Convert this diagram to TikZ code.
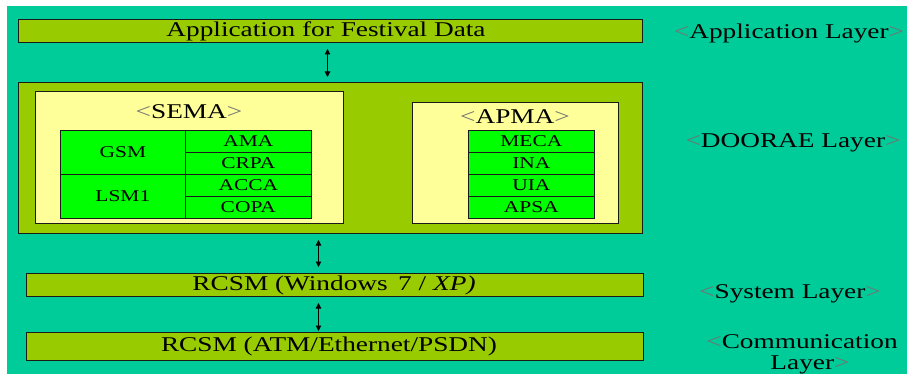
\documentclass[tikz,border=0pt]{standalone}
\usepackage{fontspec}
\setmainfont{Liberation Serif}[FakeStretch=1.3]
\usetikzlibrary{arrows.meta}
\definecolor{sea}{HTML}{00CC99}
\definecolor{olive}{HTML}{99CC00}
\definecolor{cream}{HTML}{FFFF99}
\definecolor{leaf}{HTML}{00FF00}
\definecolor{edge}{HTML}{1A1A1A}
\newcommand{\lt}{{\color{black!55}<}}
\newcommand{\gt}{{\color{black!55}>}}
\tikzset{
  layerbar/.style={draw=edge, line width=1pt, fill=olive, anchor=north west, inner sep=0pt},
  panel/.style={draw=edge, line width=1pt, fill=cream, anchor=north west, inner sep=0pt},
  cell/.style={draw=edge, line width=0.7pt, fill=leaf, anchor=north west, inner sep=0pt,
               minimum height=22pt, font=\fontsize{16.5}{18}\selectfont},
  big/.style={font=\fontsize{21}{24}\selectfont},
  updown/.style={{Triangle[width=5.5pt,length=5.5pt]}-{Triangle[width=5.5pt,length=5.5pt]}, line width=0.8pt}
}
\begin{document}
\begin{tikzpicture}[x=1pt, y=-1pt]
\useasboundingbox (0,0) rectangle (907,374);
\fill[white] (0,0) rectangle (907,374);
\fill[sea] (7,6) rectangle (907,374);

% layer bars
\node[layerbar, minimum width=624pt, minimum height=23pt] (app) at (18,19) {};
\node[layerbar, minimum width=624pt, minimum height=151pt] (doorae) at (18,82) {};
\node[layerbar, minimum width=617pt, minimum height=23pt] (sys) at (26,273) {};
\node[layerbar, minimum width=617pt, minimum height=28pt] (comm) at (26,332) {};

\node[big] (apptext) at (326,31) {Application for Festival Data};
\node[big] (systext) at (334,285) {RCSM (Windows\enspace 7 / \textit{XP)}};
\node[big] (commtext) at (329,346) {RCSM (ATM/Ethernet/PSDN)};

% SEMA panel
\node[panel, minimum width=308pt, minimum height=132pt] (sema) at (35,91) {};
\node[big] (sematitle) at (189,112) {\lt SEMA\gt};
\node[cell, minimum width=125pt, minimum height=44pt] (gsm) at (60,130) {GSM};
\node[cell, minimum width=125pt, minimum height=44pt] (lsm) at (60,174) {LSM1};
\node[cell, minimum width=126pt] (ama) at (185,130) {AMA};
\node[cell, minimum width=126pt] (crpa) at (185,152) {CRPA};
\node[cell, minimum width=126pt] (acca) at (185,174) {ACCA};
\node[cell, minimum width=126pt] (copa) at (185,196) {COPA};

% APMA panel
\node[panel, minimum width=206pt, minimum height=121pt] (apma) at (412,102) {};
\node[big] (apmatitle) at (515,117) {\lt APMA\gt};
\node[cell, minimum width=126pt] (meca) at (468,130) {MECA};
\node[cell, minimum width=126pt] (ina) at (468,152) {INA};
\node[cell, minimum width=126pt] (uia) at (468,174) {UIA};
\node[cell, minimum width=126pt] (apsa) at (468,196) {APSA};

% layer captions
\node[big] (lapp) at (789,33) {\lt Application Layer\gt};
\node[big] (ldoor) at (793,143) {\lt DOORAE Layer\gt};
\node[big] (lsys) at (790,294) {\lt System Layer\gt};
\node[big] (lcomm) at (802,342) {\lt Communication};
\node[big] (lcomm2) at (810,365) {Layer\gt};

% connectors between layers
\draw[updown, shorten <=6pt, shorten >=5pt] ([xshift=-3pt]app.south) -- ([xshift=-3pt]doorae.north);
\draw[updown, shorten <=6pt, shorten >=6pt] ([xshift=-12pt]doorae.south) -- ([xshift=-12pt]doorae.south |- sys.north);
\draw[updown, shorten <=6pt, shorten >=1pt] ([xshift=-16.5pt]sys.south) -- ([xshift=-16.5pt]comm.north);
\end{tikzpicture}
\end{document}
